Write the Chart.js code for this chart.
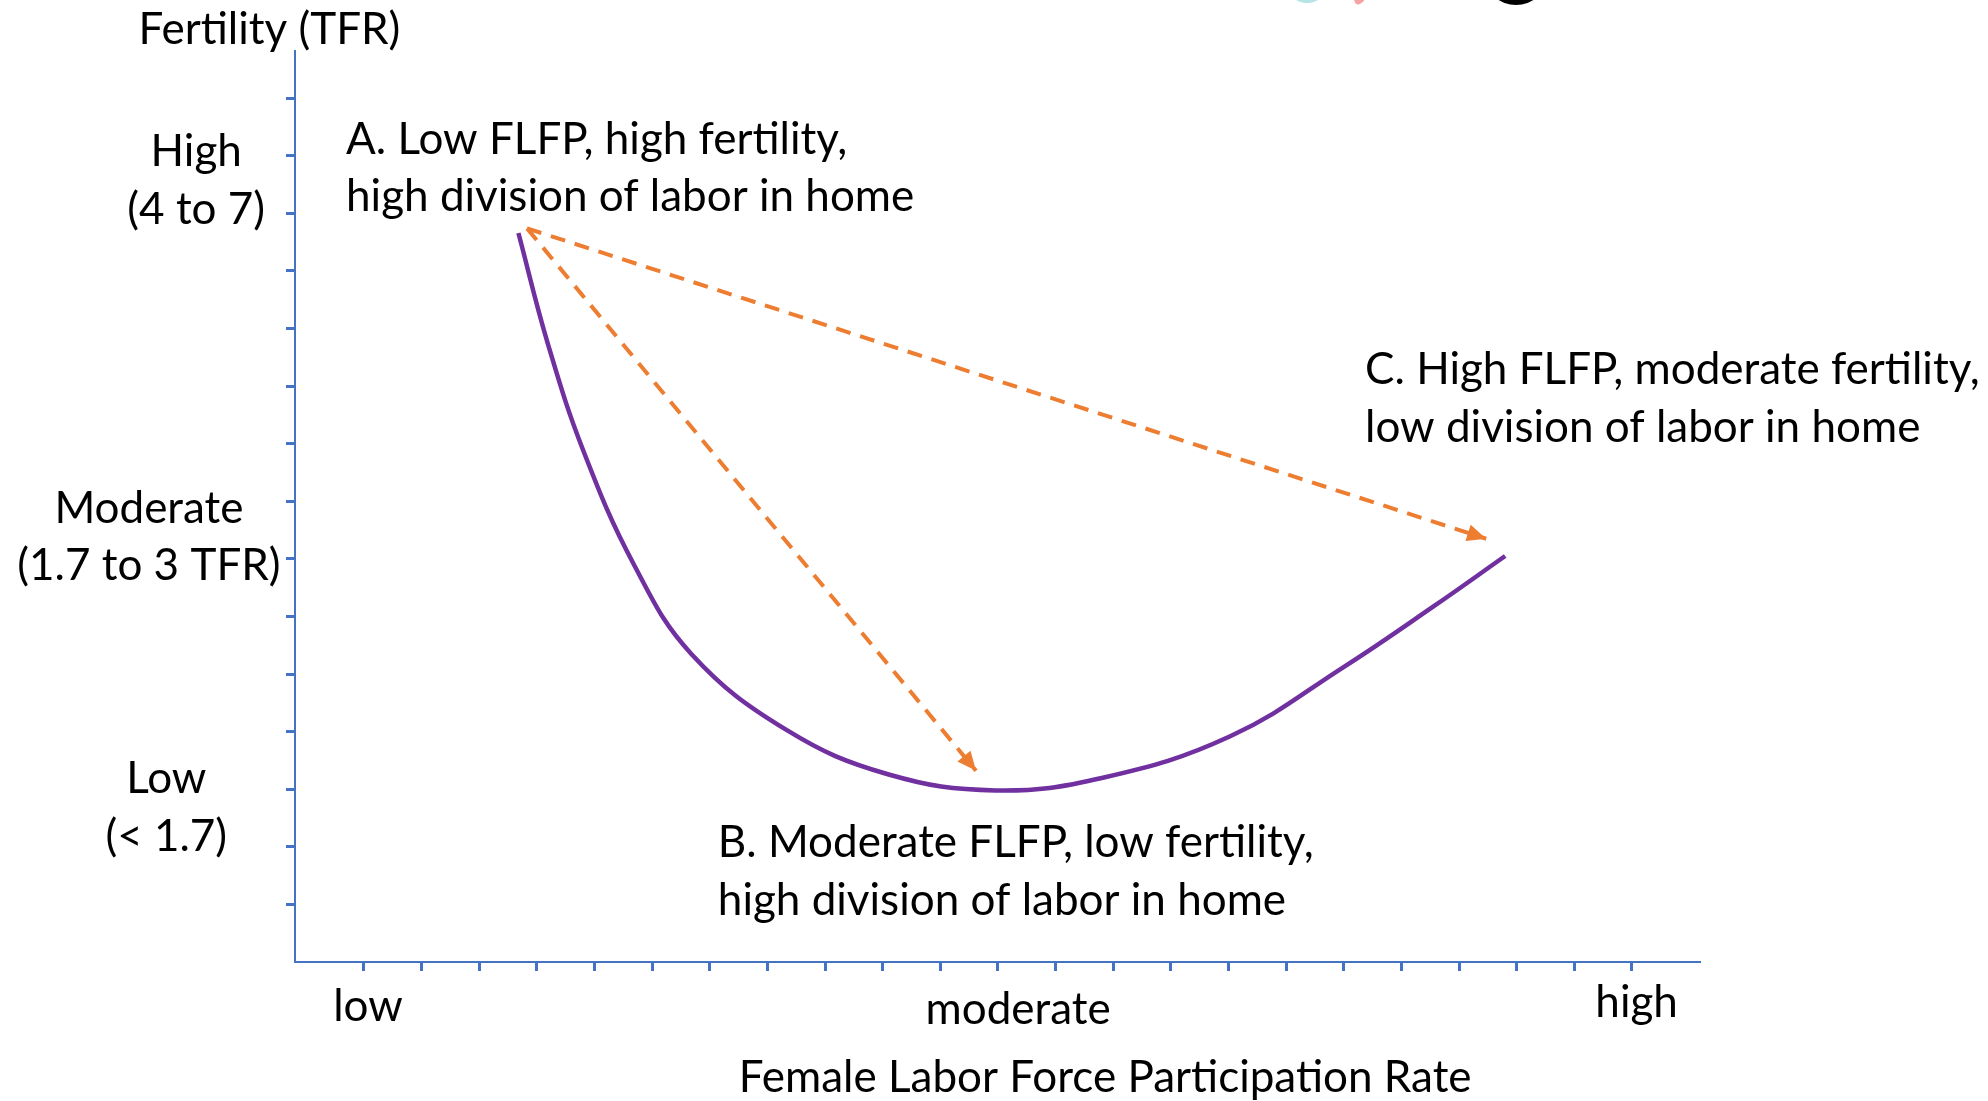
<!DOCTYPE html>
<html>
<head>
<meta charset="utf-8">
<title>Fertility and female labor force participation</title>
<script src="https://cdn.jsdelivr.net/npm/chart.js@4.4.1/dist/chart.umd.min.js"></script>
<style>
    html, body { margin: 0; padding: 0; background: #fff; }
    canvas { display: block; }
</style>
</head>
<body>
<canvas id="flfpChart" width="1988" height="1101"></canvas>
<script>
// Curve, in tick units (x: 0 = low, 22 = high; y: 1 tick = 1)
var curveX = [2.68, 3.19, 3.81, 4.69, 5.68, 7.33, 9.09, 10.96, 12.82, 15.03, 17.01, 18.55, 19.80];
var curveY = [12.66, 10.74, 8.87, 6.89, 5.35, 4.03, 3.26, 2.98, 3.20, 3.92, 5.13, 6.17, 7.05];

// Dashed arrows from A towards B and C
var arrowStart = [2.83, 12.74];
var arrowToB = [10.62, 3.32];
var arrowToC = [19.47, 7.35];

// Tick marks on both axes
var xTickValues = [0, 1, 2, 3, 4, 5, 6, 7, 8, 9, 10, 11, 12, 13, 14, 15, 16, 17, 18, 19, 20, 21, 22];
var yTickValues = [1, 2, 3, 4, 5, 6, 7, 8, 9, 10, 11, 12, 13, 14, 15];

// Texts
var xCategoryLabels = ["low", "moderate", "high"];
var yCategoryLabels = [["High", "(4 to 7)"], ["Moderate", "(1.7 to 3 TFR)"], ["Low", "(< 1.7)"]];
var pointNotes = [
    ["A. Low FLFP, high fertility,", "high division of labor in home"],
    ["B. Moderate FLFP, low fertility,", "high division of labor in home"],
    ["C. High FLFP, moderate fertility,", "low division of labor in home"]
];
var xAxisTitle = "Female Labor Force Participation Rate";
var yAxisTitle = "Fertility (TFR)";

var AXIS_BLUE = "#4472C4";
var CURVE_PURPLE = "#7030A0";
var ARROW_ORANGE = "#ED7D31";
var FONT_FAMILY = "Lato, 'Open Sans', sans-serif";
var LINE_GAP = 57.5;
var fontSize = 46;

// where each text box sits, in axis units (x centre or left edge, first baseline)
var textPlaces = [
    { lines: [yAxisTitle], x: -1.64, y: 15.95, align: "center" },
    { lines: yCategoryLabels[0], x: -2.91, y: 13.82, align: "center" },
    { lines: yCategoryLabels[1], x: -3.73, y: 7.63, align: "center" },
    { lines: yCategoryLabels[2], x: -3.43, y: 2.93, align: "center" },
    { lines: [xCategoryLabels[0]], x: 0.07, y: -1.03, align: "center" },
    { lines: [xCategoryLabels[1]], x: 11.35, y: -1.07, align: "center" },
    { lines: [xCategoryLabels[2]], x: 22.08, y: -0.96, align: "center" },
    { lines: [xAxisTitle], x: 12.86, y: -2.265, align: "center" },
    { lines: pointNotes[0], x: -0.31, y: 14.04, align: "left" },
    { lines: pointNotes[1], x: 6.14, y: 1.82, align: "left" },
    { lines: pointNotes[2], x: 17.37, y: 10.03, align: "left" }
];

function toPoints(xs, ys) {
    return xs.map(function (x, i) { return { x: x, y: ys[i] }; });
}

// size the font so the text has about the width it has in the picture (Calibri there)
function fitFontSize() {
    var c = document.createElement("canvas").getContext("2d");
    c.font = "100px " + FONT_FAMILY;
    var w = c.measureText("high division of labor in home").width;
    return Math.round(100 * 568 / w * 10) / 10;
}

// bits of a logo cut off at the top edge of the slide
var logoBits = {
    id: "logoBits",
    beforeDraw: function (chart) {
        var ctx = chart.ctx;
        ctx.save();
        ctx.fillStyle = "#B4E4E6";
        ctx.beginPath();
        ctx.ellipse(1307, -14, 19, 17, 0, 0, Math.PI * 2);
        ctx.fill();
        ctx.fillStyle = "#F4A3A3";
        ctx.beginPath();
        ctx.ellipse(1361, -6, 6, 11, 0.4, 0, Math.PI * 2);
        ctx.fill();
        ctx.fillStyle = "#000";
        ctx.beginPath();
        ctx.ellipse(1516, -22, 30, 27, 0, 0, Math.PI * 2);
        ctx.fill();
        ctx.restore();
    }
};

var arrowHeads = {
    id: "arrowHeads",
    afterDatasetsDraw: function (chart) {
        var ctx = chart.ctx;
        chart.data.datasets.forEach(function (ds, i) {
            if (!ds.arrow) return;
            var pts = chart.getDatasetMeta(i).data;
            var a = pts[pts.length - 2], b = pts[pts.length - 1];
            var ang = Math.atan2(b.y - a.y, b.x - a.x);
            ctx.save();
            ctx.translate(b.x, b.y);
            ctx.rotate(ang);
            ctx.fillStyle = ds.borderColor;
            ctx.beginPath();
            ctx.moveTo(0, 0);
            ctx.lineTo(-19, -8.5);
            ctx.lineTo(-19, 8.5);
            ctx.closePath();
            ctx.fill();
            ctx.restore();
        });
    }
};

var slideText = {
    id: "slideText",
    afterDraw: function (chart) {
        var ctx = chart.ctx;
        var xs = chart.scales.x, ys = chart.scales.y;
        ctx.save();
        ctx.fillStyle = "#000";
        ctx.font = fontSize + "px " + FONT_FAMILY;
        ctx.textBaseline = "alphabetic";
        textPlaces.forEach(function (t) {
            ctx.textAlign = t.align;
            var px = xs.getPixelForValue(t.x);
            var py = ys.getPixelForValue(t.y);
            t.lines.forEach(function (line, i) {
                ctx.fillText(line, px, py + i * LINE_GAP);
            });
        });
        ctx.restore();
    }
};

function axisOptions(min, max, tickValues) {
    return {
        type: "linear",
        min: min,
        max: max,
        afterBuildTicks: function (scale) {
            scale.ticks = tickValues.map(function (v) { return { value: v }; });
        },
        ticks: { display: false },
        grid: {
            drawOnChartArea: false,
            drawTicks: true,
            tickLength: 9,
            tickWidth: 3,
            tickColor: AXIS_BLUE
        },
        border: { display: true, color: AXIS_BLUE, width: 2 }
    };
}

function drawChart() {
    fontSize = fitFontSize();
    var ctx = document.getElementById("flfpChart").getContext("2d");
    new Chart(ctx, {
        type: "line",
        data: {
            datasets: [{
                label: "Fertility",
                data: toPoints(curveX, curveY),
                borderColor: CURVE_PURPLE,
                borderWidth: 4.5,
                pointRadius: 0,
                tension: 0.4,
                fill: false
            }, {
                label: "A to B",
                data: toPoints([arrowStart[0], arrowToB[0]], [arrowStart[1], arrowToB[1]]),
                borderColor: ARROW_ORANGE,
                borderWidth: 4,
                borderDash: [15, 10],
                pointRadius: 0,
                arrow: true
            }, {
                label: "A to C",
                data: toPoints([arrowStart[0], arrowToC[0]], [arrowStart[1], arrowToC[1]]),
                borderColor: ARROW_ORANGE,
                borderWidth: 4,
                borderDash: [15, 10],
                pointRadius: 0,
                arrow: true
            }]
        },
        options: {
            responsive: false,
            animation: false,
            layout: { padding: { left: 286, right: 288, top: 51, bottom: 130 } },
            plugins: {
                legend: { display: false },
                tooltip: { enabled: false }
            },
            scales: {
                x: axisOptions(-1.196, 23.18, xTickValues),
                y: axisOptions(0, 15.82, yTickValues)
            }
        },
        plugins: [logoBits, arrowHeads, slideText]
    });
}

if (document.fonts && document.fonts.load) {
    document.fonts.load("46px Lato").then(drawChart, drawChart);
} else {
    drawChart();
}
</script>
</body>
</html>
